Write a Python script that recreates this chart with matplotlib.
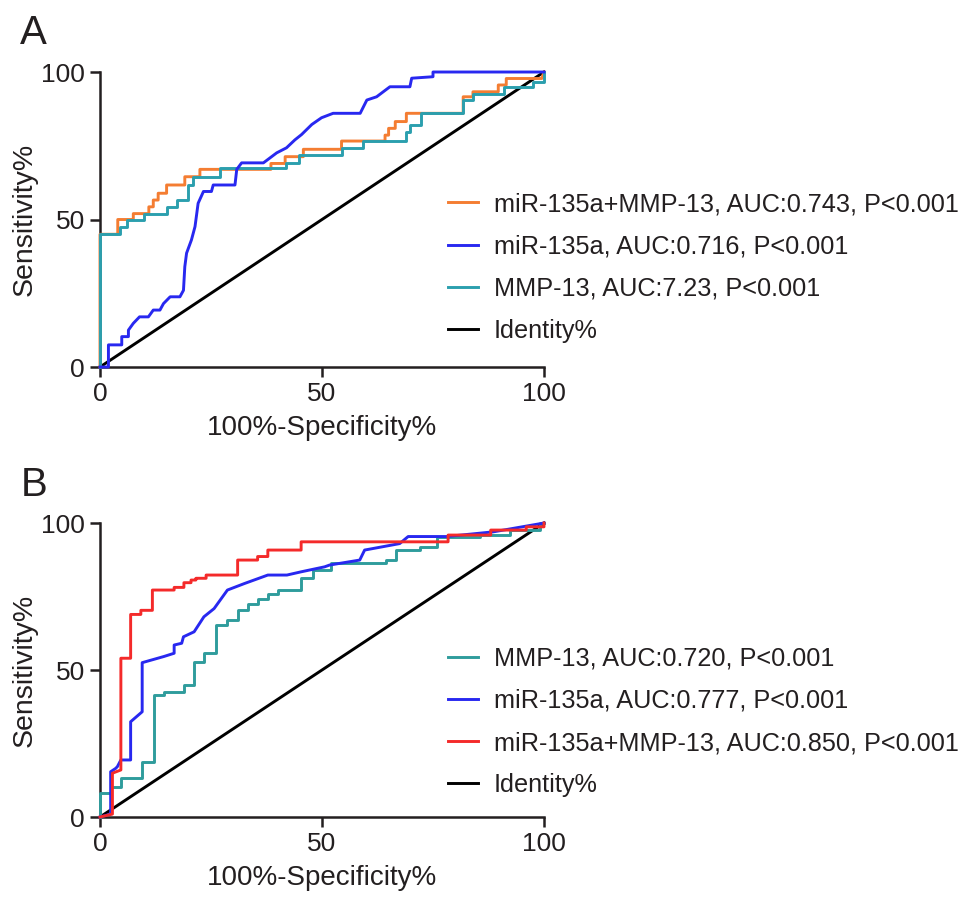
import matplotlib
matplotlib.use('Agg')
import matplotlib.pyplot as plt

plt.rcParams['font.family'] = ['Liberation Sans', 'DejaVu Sans']
plt.rcParams['text.color'] = '#231f20'
plt.rcParams['axes.labelcolor'] = '#231f20'
plt.rcParams['xtick.color'] = '#231f20'
plt.rcParams['ytick.color'] = '#231f20'

# ---- panel A data (100%-Specificity%, Sensitivity%) ----
a_combo_x = [0, 0, 4, 4, 7.5, 7.5, 11, 11, 12, 12, 13.1, 13.1, 15, 15, 19.1, 19.1, 22.5, 22.5,
             38.5, 38.5, 41.7, 41.7, 45.8, 45.8, 54.4, 54.4, 64.2, 64.2, 65, 65, 66.5, 66.5, 69, 69,
             81.8, 81.8, 84, 84, 89.7, 89.7, 91.5, 91.5, 99.5, 100]
a_combo_y = [0, 45, 45, 50, 50, 52, 52, 54.3, 54.3, 56.6, 56.6, 58.9, 58.9, 61.7, 61.7, 64.5, 64.5, 67,
             67, 69, 69, 71.3, 71.3, 73.8, 73.8, 76.6, 76.6, 78.6, 78.6, 80.9, 80.9, 83.2, 83.2, 86,
             86, 91.6, 91.6, 93.3, 93.3, 95.6, 95.6, 97.8, 97.8, 100]

a_mir_x = [0, 1.9, 1.9, 4.9, 4.9, 6.4, 6.4, 7.5, 8.9, 10.9, 12, 13.5, 14.3, 15.8, 18, 18.8, 19.1, 19.5,
           20.6, 21.4, 22.1, 23.3, 25.1, 25.5, 30.4, 30.8, 31.9, 36.8, 39.8, 42, 43.9, 45.4, 47.7,
           49.9, 52.5, 58.6, 60.1, 62.3, 65.3, 69.8, 70.2, 75, 75, 100]
a_mir_y = [0, 0, 7.5, 7.5, 10.3, 10.3, 12.5, 14.8, 17, 17, 19.3, 19.3, 21.5, 23.8, 23.8, 26, 34, 38.6,
           43.1, 47.6, 55.5, 59.5, 59.5, 61.7, 61.7, 67, 69.2, 69.2, 72.6, 74.3, 77, 78.8, 82.2,
           84.5, 86, 86, 90.5, 91.6, 95, 95, 97.9, 98.4, 100, 100]

a_mmp_x = [0, 0, 4.5, 4.5, 6, 6, 9.8, 9.8, 15, 15, 17.3, 17.3, 19.9, 19.9, 21, 21, 27, 27, 41.9, 41.9,
           44.9, 44.9, 54.4, 54.4, 59.3, 59.3, 69, 69, 69.8, 69.8, 72.4, 72.4, 81.8, 81.8, 84, 84,
           91, 91, 97.5, 97.5, 100, 100]
a_mmp_y = [0, 45, 45, 47.6, 47.6, 50, 50, 52, 52, 54.3, 54.3, 56.6, 56.6, 61.7, 61.7, 64.5, 64.5, 67.3,
           67.3, 69, 69, 71.9, 71.9, 74.1, 74.1, 76.6, 76.6, 79.5, 79.5, 82, 82, 86, 86, 90.5, 90.5,
           92.7, 92.7, 95, 95, 96.5, 96.5, 100]

a_labels = ['miR-135a+MMP-13, AUC:0.743, P<0.001',
            'miR-135a, AUC:0.716, P<0.001',
            'MMP-13, AUC:7.23, P<0.001',
            'Identity%']

# ---- panel B data ----
b_mmp_x = [0, 0, 2.4, 2.4, 4.7, 4.7, 9.5, 9.5, 12.2, 12.2, 14.4, 14.4, 18.9, 18.9, 21.2, 21.2, 23.5, 23.5,
           26.1, 26.1, 28.7, 28.7, 31, 31, 33.3, 33.3, 35.5, 35.5, 37.8, 37.8, 40, 40, 45.3, 45.3,
           47.9, 47.9, 52, 52, 64.5, 64.5, 66.7, 66.7, 72, 72, 76, 76, 85.5, 85.5, 92.3, 92.3, 99, 99, 100]
b_mmp_y = [0, 8.1, 8.1, 10.3, 10.3, 13.1, 13.1, 18.8, 18.8, 41.5, 41.5, 42.6, 42.6, 44.9, 44.9, 52.8, 52.8,
           55.7, 55.7, 65.3, 65.3, 67, 67, 70.3, 70.3, 72.6, 72.6, 74.3, 74.3, 76, 76, 77.2, 77.2, 81.2,
           81.2, 84.1, 84.1, 86.3, 86.3, 87.4, 87.4, 90.8, 90.8, 92, 92, 95.4, 95.4, 96, 96, 97.6, 97.6,
           100, 100]

b_mir_x = [0, 2.4, 2.4, 3.5, 3.9, 4.7, 6.9, 6.9, 9.5, 9.5, 14.4, 16.7, 16.7, 18.4, 18.8, 21.2, 23.4, 25.7,
           28.7, 32.5, 37.8, 42.1, 45.3, 50.6, 51.7, 58.5, 59.6, 67.5, 69.4, 78, 88.6, 100]
b_mir_y = [0, 1, 15.4, 16.5, 17.1, 19.4, 19.4, 32.4, 35.8, 52.5, 54.6, 55.7, 58.5, 59.1, 61.3, 63, 68.1,
           70.9, 77.2, 79.4, 82.3, 82.3, 83.4, 85.1, 85.7, 87.4, 90.8, 93, 95.4, 95.4, 97, 100]

b_combo_x = [0, 2.8, 2.8, 4.7, 4.7, 6.9, 6.9, 9.2, 9.2, 11.8, 11.8, 16.7, 16.7, 18.9, 18.9, 20.5, 20.5,
             21.6, 21.6, 23.9, 23.9, 31, 31, 35.5, 35.5, 37.8, 37.8, 45.3, 45.3, 78.4, 78.4, 88, 88,
             96, 96, 100, 100]
b_combo_y = [0, 1, 14.9, 16, 54, 54, 68.9, 68.9, 70.3, 70.3, 77.2, 77.2, 78.1, 78.1, 79.7, 79.7, 80.6,
             80.6, 81.2, 81.2, 82.3, 82.3, 87.4, 87.4, 88.6, 88.6, 90.8, 90.8, 93.6, 93.6, 95.9, 95.9,
             97.6, 97.6, 98.7, 98.7, 100]

b_labels = ['MMP-13, AUC:0.720, P<0.001',
            'miR-135a, AUC:0.777, P<0.001',
            'miR-135a+MMP-13, AUC:0.850, P<0.001',
            'Identity%']

ident = [0, 100]

ORANGE = '#f47d32'
BLUE = '#2828f0'
TEAL_A = '#2b9fae'
TEAL_B = '#2f9c9c'
RED = '#f42a2a'
LW = 2.1


def style_axes(ax):
    ax.set_xlim(0, 100)
    ax.set_ylim(0, 100)
    ax.set_xticks([0, 50, 100])
    ax.set_yticks([0, 50, 100])
    for s in ['top', 'right']:
        ax.spines[s].set_visible(False)
    for s in ['left', 'bottom']:
        ax.spines[s].set_linewidth(1.8)
        ax.spines[s].set_color('#231f20')
        ax.spines[s].set_zorder(1)
    ax.tick_params(direction='out', length=7, width=1.8, labelsize=19, pad=4)
    ax.set_xlabel('100%-Specificity%', fontsize=20, labelpad=6)
    ax.set_ylabel('Sensitivity%', fontsize=20.5, labelpad=2.5)


def add_legend(ax, handles, labels, y):
    ax.legend(handles, labels, loc='center left', bbox_to_anchor=(0.4623, y),
              bbox_transform=fig.transFigure, frameon=False, fontsize=18.2, handlelength=1.2,
              handletextpad=0.62, labelspacing=0.72, borderpad=0, borderaxespad=0)


fig = plt.figure(figsize=(9.69, 9.15), dpi=100)

# panel A
axA = fig.add_axes([0.1032, 0.5989, 0.4582, 0.3224])
style_axes(axA)
hk, = axA.plot(ident, ident, color='black', lw=LW, clip_on=False, zorder=3)
ho, = axA.plot(a_combo_x, a_combo_y, color=ORANGE, lw=LW, clip_on=False, zorder=3)
ht, = axA.plot(a_mmp_x, a_mmp_y, color=TEAL_A, lw=LW, clip_on=False, zorder=3)
hb, = axA.plot(a_mir_x, a_mir_y, color=BLUE, lw=LW, clip_on=False, zorder=3)
add_legend(axA, [ho, hb, ht, hk], a_labels, 0.7077)
fig.text(0.021, 0.964, 'A', fontsize=29, va='center', ha='left')

# panel B
axB = fig.add_axes([0.1032, 0.1071, 0.4582, 0.3213])
style_axes(axB)
hk2, = axB.plot(ident, ident, color='black', lw=LW, clip_on=False, zorder=3)
ht2, = axB.plot(b_mmp_x, b_mmp_y, color=TEAL_B, lw=LW, clip_on=False, zorder=3)
hb2, = axB.plot(b_mir_x, b_mir_y, color=BLUE, lw=LW, clip_on=False, zorder=3)
hr2, = axB.plot(b_combo_x, b_combo_y, color=RED, lw=LW, clip_on=False, zorder=3)
add_legend(axB, [ht2, hb2, hr2, hk2], b_labels, 0.2109)
fig.text(0.021, 0.47, 'B', fontsize=29, va='center', ha='left')

fig.savefig('out.png', dpi=100)
